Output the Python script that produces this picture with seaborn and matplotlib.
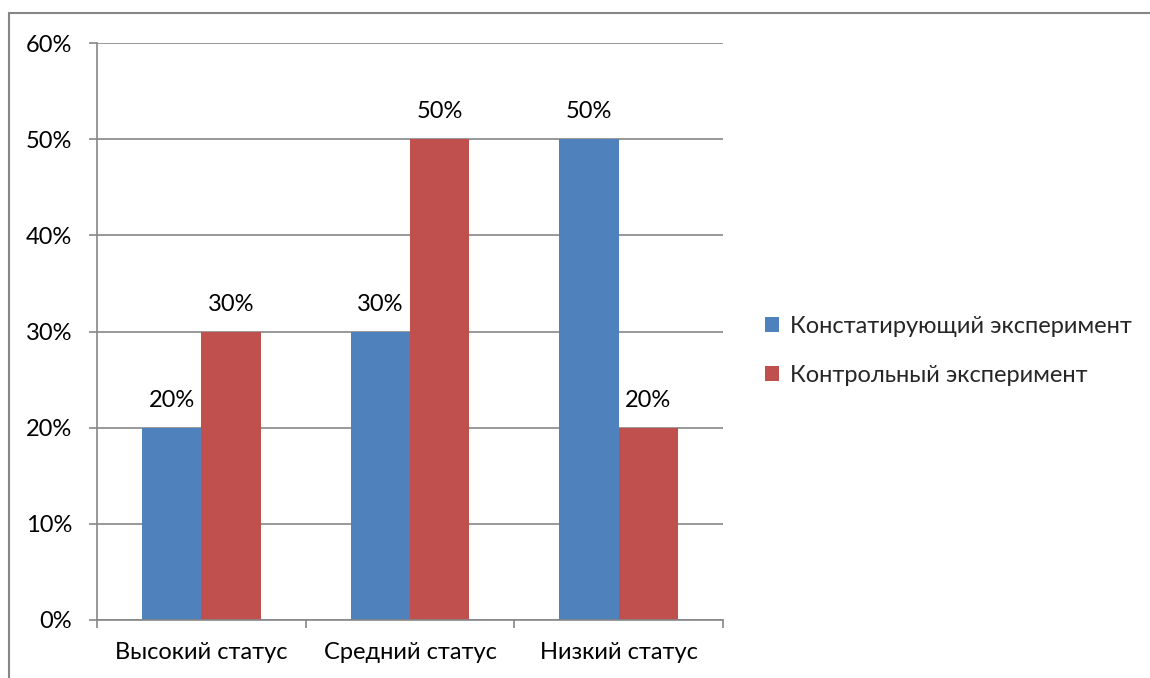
import matplotlib
matplotlib.use("Agg")
import matplotlib.pyplot as plt
from matplotlib.lines import Line2D
from matplotlib.patches import Patch
from matplotlib.ticker import FixedLocator, PercentFormatter
import seaborn as sns
import pandas as pd

categories = ["Высокий статус", "Средний статус", "Низкий статус"]
series_names = ["Констатирующий эксперимент", "Контрольный эксперимент"]
ascertaining = [20, 30, 50]
control = [30, 50, 20]
y_ticks = [0, 10, 20, 30, 40, 50, 60]

colors = ["#4F81BD", "#C0504D"]
grid_gray = "#868686"
fs = 17

df = pd.DataFrame({
    "category": categories * 2,
    "series": [series_names[0]] * 3 + [series_names[1]] * 3,
    "value": ascertaining + control,
})

sns.set_theme(style="white")
plt.rcParams["font.family"] = ["Lato", "DejaVu Sans"]

fig = plt.figure(figsize=(11.5, 6.78), dpi=100)
ax = fig.add_axes([97 / 1150, 1 - 620 / 678, (723 - 97) / 1150, (620 - 43) / 678])

sns.barplot(data=df, x="category", y="value", hue="series", order=categories,
            hue_order=series_names, palette=colors, width=0.57, gap=0,
            saturation=1, ax=ax, legend=False, edgecolor="none", linewidth=0)

ax.set_ylim(0, 60)
ax.set_xlim(-0.5, 2.5)
ax.yaxis.set_major_locator(FixedLocator(y_ticks))
ax.yaxis.set_major_formatter(PercentFormatter(decimals=0))
ax.grid(axis="y", color=grid_gray, linewidth=1.2)
ax.set_axisbelow(True)
ax.set_xlabel("")
ax.set_ylabel("")

for side in ["top", "right"]:
    ax.spines[side].set_visible(False)
for side in ["left", "bottom"]:
    ax.spines[side].set_color(grid_gray)
    ax.spines[side].set_linewidth(1.2)

ax.tick_params(axis="y", which="major", direction="out", length=6, width=1.2,
               color=grid_gray, left=True, pad=12, labelsize=fs, labelcolor="black")
ax.tick_params(axis="x", which="major", length=0, pad=16, labelsize=fs, labelcolor="black")
ax.set_xticks([-0.5, 0.5, 1.5, 2.5], minor=True)
ax.tick_params(axis="x", which="minor", direction="out", length=6, width=1.2,
               color=grid_gray, bottom=True)

for container in ax.containers:
    ax.bar_label(container, labels=[f"{v:.0f}%" for v in container.datavalues],
                 padding=12, fontsize=fs, color="black")

handles = [Patch(facecolor=c, edgecolor="none") for c in colors]
fig.legend(handles, series_names, loc="center left",
           bbox_to_anchor=(765 / 1150, 1 - 351 / 678), frameon=False,
           fontsize=fs, handlelength=0.6, handleheight=0.6, handletextpad=0.45,
           labelspacing=1.2, borderaxespad=0, borderpad=0)

# chart area border (top and left edges)
fig.add_artist(Line2D([9 / 1150, 1.0], [1 - 13 / 678] * 2, transform=fig.transFigure,
                      color=grid_gray, linewidth=1.5))
fig.add_artist(Line2D([9 / 1150] * 2, [0.0, 1 - 13 / 678], transform=fig.transFigure,
                      color=grid_gray, linewidth=1.5))

fig.savefig("out.png", dpi=100, facecolor="white")
